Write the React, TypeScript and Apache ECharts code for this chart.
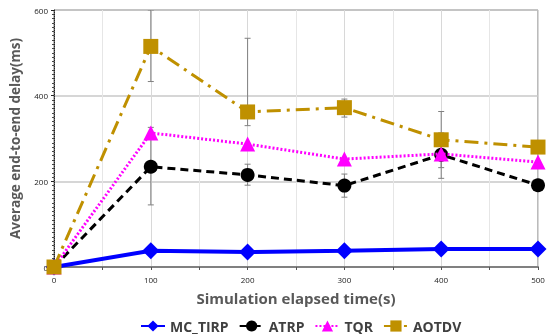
import React, { useEffect, useRef } from "react";
import * as echarts from "echarts";

const xValues = [0, 100, 200, 300, 400, 500];
const mcTirp = [0, 38, 35, 38, 42, 42];
const atrp = [0, 234, 215, 190, 262, 191];
const tqr = [0, 313, 287, 252, 264, 245];
const aotdv = [0, 515, 362, 372, 297, 280];

// error ranges [x, low, high]
const aotdvErr = [
  [100, 433, 600],
  [200, 330, 534],
  [300, 350, 392],
  [400, 232, 363],
  [500, 270, 290],
];
const atrpErr = [
  [100, 145, 326],
  [200, 191, 240],
  [300, 163, 217],
  [400, 207, 313],
  [500, 182, 200],
];

const seriesNames = ["MC_TIRP", "ATRP", "TQR", "AOTDV"];
const colors = ["#0000FF", "#000000", "#FF00FF", "#BF9000"];

export default function App() {
  const ref = useRef<HTMLDivElement>(null);
  useEffect(() => {
    if (!ref.current) return;
    const chart = echarts.init(ref.current, null, { renderer: "svg" });
    const zip = (arr: number[]) => xValues.map((x, i) => [x, arr[i]]);
    const errRender = (params: any, api: any) => {
      const x = api.value(0);
      const lo = api.coord([x, api.value(1)]);
      const hi = api.coord([x, api.value(2)]);
      const cap = 3;
      const style = { stroke: "#808080", lineWidth: 1 };
      return {
        type: "group",
        children: [
          { type: "line", shape: { x1: lo[0], y1: lo[1], x2: hi[0], y2: hi[1] }, style },
          { type: "line", shape: { x1: lo[0] - cap, y1: lo[1], x2: lo[0] + cap, y2: lo[1] }, style },
          { type: "line", shape: { x1: hi[0] - cap, y1: hi[1], x2: hi[0] + cap, y2: hi[1] }, style },
        ],
      };
    };
    const font = "'Open Sans', 'Noto Sans', sans-serif";
    chart.setOption({
      animation: false,
      textStyle: { fontFamily: font },
      grid: {
        left: 47,
        right: 12,
        top: 10,
        bottom: 67,
        show: true,
        borderColor: "#777",
        borderWidth: 1,
      },
      legend: {
        top: 314,
        left: 135,
        itemWidth: 24,
        itemHeight: 14,
        itemGap: 10,
        data: seriesNames,
        textStyle: { fontSize: 14, fontWeight: "bold", color: "#404040", fontFamily: font },
      },
      xAxis: {
        type: "value",
        min: 0,
        max: 500,
        interval: 100,
        name: "Simulation elapsed time(s)",
        nameLocation: "middle",
        nameGap: 23,
        nameTextStyle: { fontSize: 15, fontWeight: "bold", color: "#595959", fontFamily: font },
        axisLine: { lineStyle: { color: "#808080", width: 2 } },
        axisTick: { show: true, length: 3, inside: false, lineStyle: { color: "#555" } },
        minorTick: { show: true, splitNumber: 2, length: 3, lineStyle: { color: "#555" } },
        axisLabel: { fontSize: 8, color: "#222", margin: 8 },
        splitLine: { show: true, lineStyle: { color: "#d8d8d8", width: 1 } },
        minorSplitLine: { show: true, lineStyle: { color: "#e6e6e6", width: 1 } },
      },
      yAxis: {
        type: "value",
        min: 0,
        max: 600,
        interval: 200,
        name: "Average end-to-end delay(ms)",
        nameLocation: "middle",
        nameGap: 32,
        nameTextStyle: { fontSize: 13.5, fontWeight: "bold", color: "#595959", fontFamily: font },
        axisLine: { show: true, lineStyle: { color: "#222", width: 1, type: "dotted" } },
        axisTick: { show: true, length: 3, lineStyle: { color: "#222" } },
        minorTick: { show: true, splitNumber: 20, length: 2, lineStyle: { color: "#444" } },
        axisLabel: { fontSize: 8, color: "#222", margin: 6 },
        splitLine: { show: true, lineStyle: { color: "#c8c8c8", width: 1.5 } },
      },
      series: [
        {
          type: "custom",
          renderItem: errRender,
          data: aotdvErr,
          z: 1,
          silent: true,
          clip: true,
        },
        {
          type: "custom",
          renderItem: errRender,
          data: atrpErr,
          z: 1,
          silent: true,
          clip: true,
        },
        {
          name: seriesNames[0],
          type: "line",
          data: zip(mcTirp),
          symbol: "diamond",
          symbolSize: 17,
          itemStyle: { color: colors[0] },
          lineStyle: { color: colors[0], width: 4 },
          z: 2,
        },
        {
          name: seriesNames[1],
          type: "line",
          data: zip(atrp),
          symbol: "circle",
          symbolSize: 14,
          itemStyle: { color: colors[1] },
          lineStyle: { color: colors[1], width: 3, type: [8, 5] },
          z: 3,
        },
        {
          name: seriesNames[2],
          type: "line",
          data: zip(tqr),
          symbol: "triangle",
          symbolSize: 15,
          itemStyle: { color: colors[2] },
          lineStyle: { color: colors[2], width: 3, type: [2, 2] },
          z: 4,
        },
        {
          name: seriesNames[3],
          type: "line",
          data: zip(aotdv),
          symbol: "rect",
          symbolSize: 15,
          itemStyle: { color: colors[3], borderRadius: 2 },
          lineStyle: { color: colors[3], width: 3, type: [14, 6, 3, 6] },
          z: 5,
        },
      ],
    });
    return () => chart.dispose();
  }, []);
  return (
    <div
      ref={ref}
      style={{ position: "fixed", left: 0, top: 0, width: 550, height: 334 }}
    />
  );
}
